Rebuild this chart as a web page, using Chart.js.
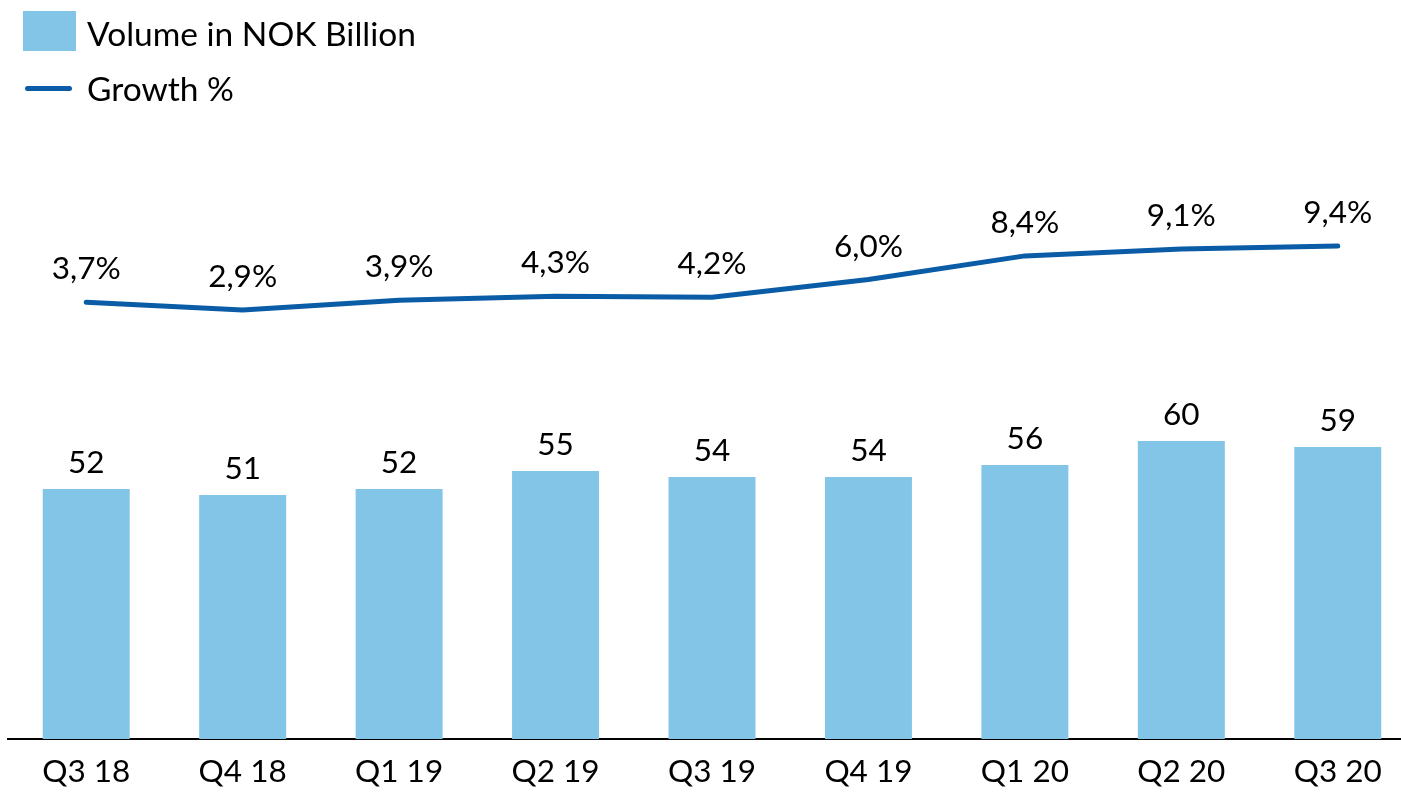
<!DOCTYPE html>
<html lang="en">
<head>
<meta charset="UTF-8">
<title>Volume and growth</title>
<script src="https://cdn.jsdelivr.net/npm/chart.js"></script>
<style>
    body { margin: 0; background: #fff; overflow: hidden; font-family: Lato, "Open Sans", sans-serif; }
    .wrap { position: relative; width: 1416px; height: 792px; }
    .swatch-bar { position: absolute; left: 23px; top: 11px; width: 53px; height: 40px; background: #82C5E7; }
    .swatch-line { position: absolute; left: 25px; top: 86px; width: 47px; height: 5px; border-radius: 3px; background: #0A5CA6; }
    .lbl { position: absolute; left: 87px; font-size: 33.5px; line-height: 40px; color: #000; }
</style>
</head>
<body>
<div class="wrap">
    <canvas id="chart"></canvas>
    <div class="swatch-bar"></div>
    <div class="lbl" style="top:13px">Volume in NOK Billion</div>
    <div class="swatch-line"></div>
    <div class="lbl" style="top:68px">Growth %</div>
</div>
<script>
const quarters = ['Q3 18', 'Q4 18', 'Q1 19', 'Q2 19', 'Q3 19', 'Q4 19', 'Q1 20', 'Q2 20', 'Q3 20'];
const volume = [52, 51, 52, 55, 54, 54, 56, 60, 59];
const growth = [3.7, 2.9, 3.9, 4.3, 4.2, 6.0, 8.4, 9.1, 9.4];

const BAR_COLOR = '#82C5E7';
const LINE_COLOR = '#0A5CA6';
const FONT = 'Lato, "Open Sans", sans-serif';

// draws the value labels above bars and line points
const valueLabels = {
    id: 'valueLabels',
    afterDatasetsDraw(chart) {
        const ctx = chart.ctx;
        ctx.save();
        ctx.fillStyle = '#000';
        ctx.font = '31.5px ' + FONT;
        ctx.textAlign = 'center';
        ctx.textBaseline = 'middle';
        chart.getDatasetMeta(1).data.forEach((el, i) => {
            ctx.fillText(String(volume[i]), el.x, el.y - 26);
        });
        chart.getDatasetMeta(0).data.forEach((el, i) => {
            ctx.fillText(growth[i].toFixed(1).replace('.', ',') + '%', el.x, el.y - 33);
        });
        ctx.restore();
    }
};

new Chart(document.getElementById('chart'), {
    data: {
        labels: quarters,
        datasets: [{
            type: 'line',
            label: 'Growth %',
            data: growth,
            yAxisID: 'yGrowth',
            borderColor: LINE_COLOR,
            borderWidth: 5,
            borderCapStyle: 'round',
            borderJoinStyle: 'round',
            pointRadius: 0,
            tension: 0,
            order: 0
        }, {
            type: 'bar',
            label: 'Volume in NOK Billion',
            data: volume,
            yAxisID: 'yVol',
            backgroundColor: BAR_COLOR,
            barPercentage: 1,
            categoryPercentage: 0.556,
            order: 1
        }]
    },
    options: {
        responsive: true,
        maintainAspectRatio: false,
        animation: false,
        layout: { padding: { top: 140, left: 8, right: 0, bottom: 0 } },
        plugins: { legend: { display: false }, tooltip: { enabled: false } },
        scales: {
            x: {
                grid: { display: false, drawTicks: false },
                border: { display: true, color: '#000', width: 2 },
                ticks: { color: '#000', font: { family: FONT, size: 31.5 }, padding: 14, maxRotation: 0 },
                afterFit(scale) { scale.height = 53; }
            },
            yVol: {
                display: false,
                min: 10.33,
                max: 110.17
            },
            yGrowth: {
                display: false,
                min: -40.67,
                max: 20.17
            }
        }
    },
    plugins: [valueLabels]
});
</script>
</body>
</html>
